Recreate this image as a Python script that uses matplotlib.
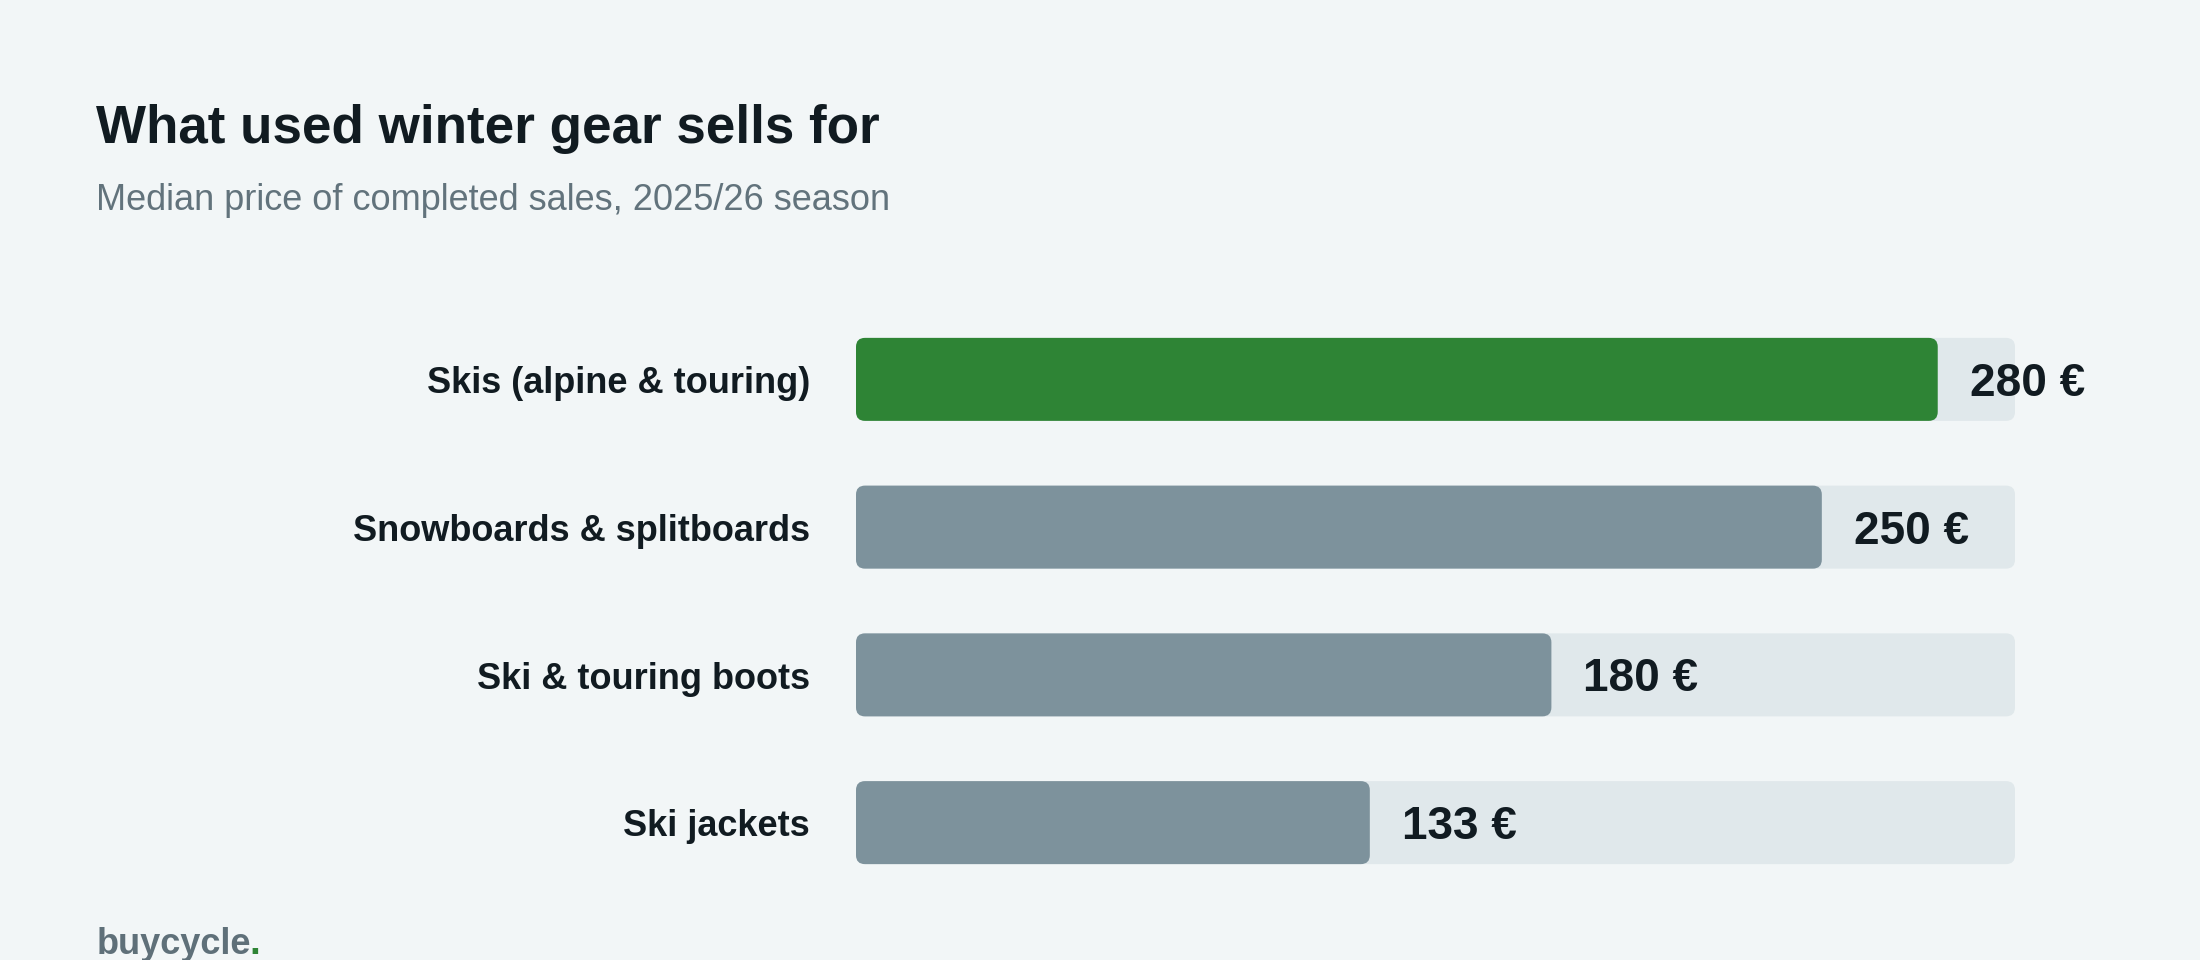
import matplotlib.pyplot as plt
from matplotlib import font_manager
from matplotlib.patches import FancyBboxPatch

# chart data
categories = ["Skis (alpine & touring)", "Snowboards & splitboards",
              "Ski & touring boots", "Ski jackets"]
prices = [280, 250, 180, 133]
track_max = 300
highlight = "Skis (alpine & touring)"

title = "What used winter gear sells for"
subtitle = "Median price of completed sales, 2025/26 season"
brand = "buycycle"

BG = "#f2f6f7"
TRACK = "#e0e8eb"
GREY = "#7d929c"
GREEN = "#2e8435"
INK = "#111b21"
MUTED = "#62737c"

names = {f.name for f in font_manager.fontManager.ttflist}
FONT = "Liberation Sans" if "Liberation Sans" in names else "DejaVu Sans"
plt.rcParams["font.family"] = [FONT, "DejaVu Sans"]

W, H = 2200, 960
fig = plt.figure(figsize=(W / 100, H / 100), dpi=100, facecolor=BG)

# bar area in pixels (left, top, width, height)
left, top, width, height = 856, 305.5, 1159, 591
ax = fig.add_axes([left / W, 1 - (top + height) / H, width / W, height / H])
ax.set_facecolor(BG)
ax.set_xlim(0, track_max)
ax.set_ylim(len(categories) - 0.5, -0.5)
ax.axis("off")

ux = track_max / width              # x data units per pixel
uy = len(categories) / height       # y data units per pixel
aspect = uy / ux
radius = 9 * ux
bar_h = 83 * uy


def rounded(x0, y0, w, h, color, z):
    p = FancyBboxPatch((x0, y0), w, h,
                       boxstyle=f"round,pad=0,rounding_size={radius}",
                       mutation_aspect=aspect, facecolor=color,
                       edgecolor="none", zorder=z)
    ax.add_patch(p)


lab_size = 26
val_size = 33
for i, (cat, v) in enumerate(zip(categories, prices)):
    rounded(0, i - bar_h / 2, track_max, bar_h, TRACK, 1)
    rounded(0, i - bar_h / 2, v, bar_h, GREEN if cat == highlight else GREY, 2)
    ax.annotate(cat, (0, i), xytext=(-33, -0.38 * lab_size),
                textcoords="offset points", ha="right", va="baseline",
                fontsize=lab_size, fontweight="bold", color=INK)
    ax.annotate(f"{v} €", (v, i), xytext=(23, -0.36 * val_size),
                textcoords="offset points", ha="left", va="baseline",
                fontsize=val_size, fontweight="bold", color=INK, zorder=3)

fig.text(96 / W, 1 - 143 / H, title, fontsize=38.2, fontweight="bold",
         color=INK, va="baseline", ha="left")
fig.text(96 / W, 1 - 210 / H, subtitle, fontsize=26, color=MUTED,
         va="baseline", ha="left")

# logo: wordmark plus a green full stop right after it
logo = fig.text(97 / W, 1 - 954 / H, brand, fontsize=26, fontweight="bold",
                color="#5f7079", va="baseline", ha="left")
fig.canvas.draw()
x_end = logo.get_window_extent().x1 - 2
fig.text(x_end / W, 1 - 954 / H, ".", fontsize=28, fontweight="bold",
         color=GREEN, va="baseline", ha="left")

fig.savefig("out.png", dpi=100, facecolor=BG)
